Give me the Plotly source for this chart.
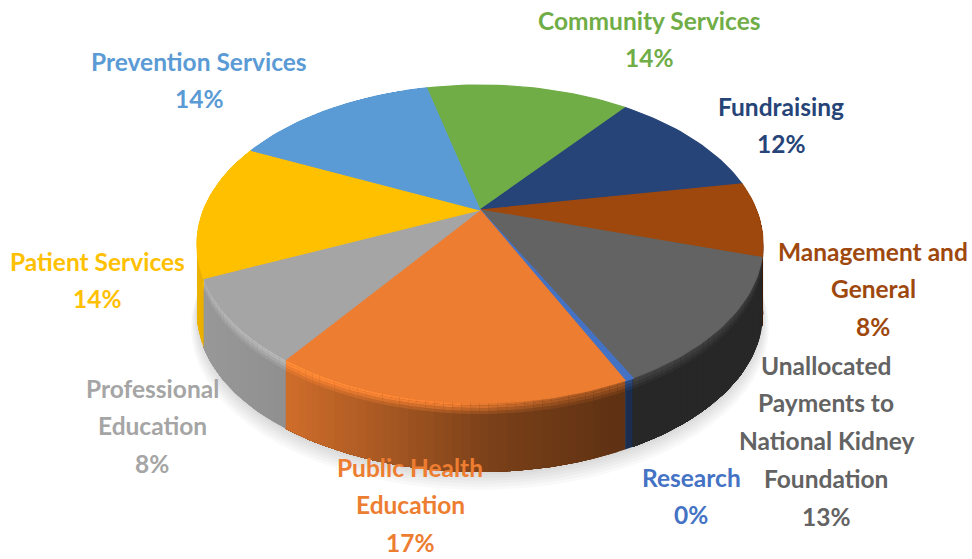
import numpy as np
import plotly.graph_objects as go

# Budget shares, clockwise from the Community Services slice
categories = ["Community Services", "Fundraising", "Management and General",
              "Unallocated Payments to National Kidney Foundation", "Research",
              "Public Health Education", "Professional Education",
              "Patient Services", "Prevention Services"]
shares = [14.3, 11.6, 7.6, 12.9, 0.4, 16.8, 8.4, 13.8, 14.2]
colors = ["#70ad47", "#264478", "#9e480e", "#636363", "#4472c4",
          "#ed7d31", "#a5a5a5", "#ffc000", "#5b9bd5"]

# Wrapped label lines and the anchor of each label block
label_lines = [["Community Services"], ["Fundraising"], ["Management and", "General"],
               ["Unallocated", "Payments to", "National Kidney", "Foundation"], ["Research"],
               ["Public Health", "Education"], ["Professional", "Education"],
               ["Patient Services"], ["Prevention Services"]]
label_x = [649, 781, 873, 826, 691, 410, 152, 97, 199]
label_y = [20, 106, 251, 365, 477, 467, 388, 261, 61]
LINE_GAP = 37.8

# Perspective pie geometry
CX, CY = 480, 210
R0, H, K = 276.5, 151.7, 0.214
THICK = 69
START = -13.5
STEP = 1.5


def project(t_deg, radius=1.0, drop=0.0):
    t = np.radians(t_deg)
    u, v = radius * np.sin(t), radius * np.cos(t)
    d = 1 + K * v
    return CX + R0 * u / d, CY - H * v / d + drop


def shade(base, f):
    c = np.array([int(base[i:i + 2], 16) for i in (1, 3, 5)], float)
    c = np.clip(c * f, 0, 255).astype(int)
    return f"rgb({c[0]},{c[1]},{c[2]})"


def side_factor(x):
    return float(np.interp(x, [195, 290, 430, 490, 620, 770], [0.93, 0.87, 0.63, 0.52, 0.40, 0.40]))


def highlight(x):
    return float(np.interp(x, [195, 300, 450, 560, 770], [1.12, 1.14, 1.06, 0.75, 0.62]))


def poly(xs, ys, color):
    return go.Scatter(x=list(xs), y=list(ys), mode="lines", fill="toself", fillcolor=color,
                      line=dict(width=0), hoverinfo="skip", showlegend=False)


fig = go.Figure()

# Soft drop shadow under the disc
ring = np.arange(0, 361, 4.0)
for grow, drop in zip([1.02, 1.016, 1.012, 1.008, 1.004, 1.0],
                      [THICK + 13, THICK + 11, THICK + 9, THICK + 7, THICK + 5, THICK + 3]):
    sx, sy = project(ring, grow, drop)
    fig.add_trace(go.Scatter(x=sx, y=sy, mode="lines", fill="toself", fillcolor="rgba(0,0,0,0.022)",
                             line=dict(width=0), hoverinfo="skip", showlegend=False))

edges = START + np.cumsum([0] + shares) * 3.6

# Outer wall and rounded rim per slice. Each strip is painted from its own start
# to the slice's far end, so the next strip overlaps it and no seams show.
for i, base in enumerate(colors):
    a0, a1 = edges[i], edges[i + 1]
    mid_angle = (a0 + a1) / 2
    if np.cos(np.radians(mid_angle)) > 0.5 and a1 < 90:
        continue
    n = max(1, int(np.ceil((a1 - a0) / STEP)))
    ts = np.linspace(a0, a1, n + 1)
    order = range(n)
    for k in order:
        arc = ts[k:]
        ax, ay = project(arc)
        x_here = float(ax[:2].mean())
        sf = side_factor(x_here)
        fig.add_trace(poly(np.r_[ax, ax[::-1]], np.r_[ay, ay[::-1] + THICK], shade(base, sf)))
        hf = highlight(x_here)
        for d0, d1, w in [(8, 11, 0.25), (5, 8, 0.55), (2.5, 5, 0.85), (0, 2.5, 1.0)]:
            fig.add_trace(poly(np.r_[ax, ax[::-1]], np.r_[ay + d0, ay[::-1] + d1], shade(base, sf + (hf - sf) * w)))

# Top faces
for i, base in enumerate(colors):
    ts = np.arange(edges[i], edges[i + 1], STEP).tolist() + [edges[i + 1]]
    rx, ry = project(np.array(ts))
    fig.add_trace(go.Scatter(x=[CX, *rx, CX], y=[CY, *ry, CY], mode="lines", fill="toself",
                             fillcolor=base, line=dict(color=base, width=1.2 if shares[i] >= 1 else 2),
                             name=categories[i], hoverinfo="name", showlegend=False))

# Outside labels: wrapped name plus rounded percentage
annotations = []
for lines, share, col, lx, ly in zip(label_lines, shares, colors, label_x, label_y):
    for j, text in enumerate(lines + [f"{round(share)}%"]):
        annotations.append(dict(x=lx, y=ly + j * LINE_GAP, xref="x", yref="y", text=text, showarrow=False,
                                xanchor="center", yanchor="middle",
                                font=dict(family="Lato", size=24.5, color=col, weight="bold")))

fig.update_layout(
    width=972, height=559, margin=dict(l=0, r=0, t=0, b=0),
    paper_bgcolor="white", plot_bgcolor="white", showlegend=False, annotations=annotations,
    xaxis=dict(range=[0, 972], visible=False, fixedrange=True),
    yaxis=dict(range=[559, 0], visible=False, fixedrange=True),
)
fig.write_html("out.html", config=dict(displayModeBar=False))
